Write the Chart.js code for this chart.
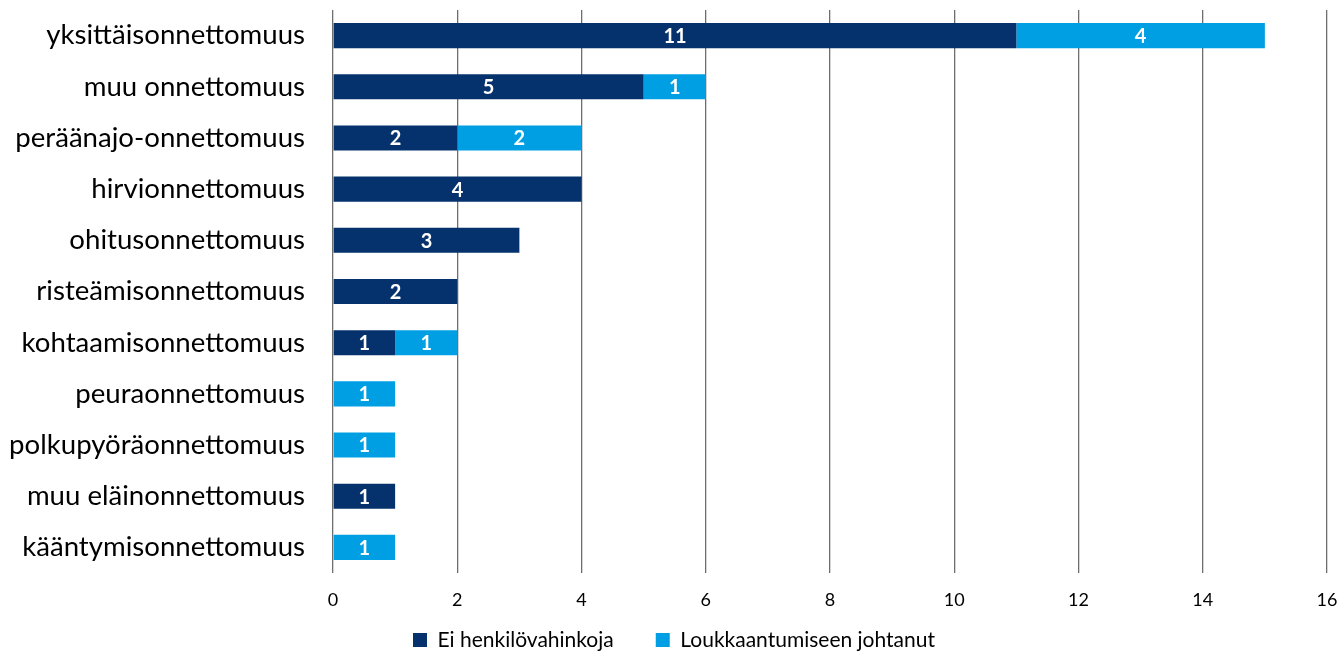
<!DOCTYPE html>
<html>
<head>
<meta charset="utf-8">
<script src="https://cdn.jsdelivr.net/npm/chart.js@4.4.1/dist/chart.umd.min.js"></script>
<style>
  html, body { margin: 0; padding: 0; background: #ffffff; }
  #wrap { width: 1341px; height: 653px; position: relative; }
</style>
</head>
<body>
<div id="wrap"><canvas id="c"></canvas></div>
<script>
// Onnettomuustyypit ja tapausmäärät
const categories = [
  'yksittäisonnettomuus',
  'muu onnettomuus',
  'peräänajo-onnettomuus',
  'hirvionnettomuus',
  'ohitusonnettomuus',
  'risteämisonnettomuus',
  'kohtaamisonnettomuus',
  'peuraonnettomuus',
  'polkupyöräonnettomuus',
  'muu eläinonnettomuus',
  'kääntymisonnettomuus'
];
const eiHenkilovahinkoja   = [11, 5, 2, 4, 3, 2, 1, 0, 0, 1, 0];
const loukkaantumiseenJoht = [4, 1, 2, 0, 0, 0, 1, 1, 1, 0, 1];
const seriesNames = ['Ei henkilövahinkoja', 'Loukkaantumiseen johtanut'];
const xTicks = [0, 2, 4, 6, 8, 10, 12, 14, 16];

const FONT = "'Lato', 'Open Sans', sans-serif";
const LEGEND_FONT = 21;
const LEGEND_PAD = 42;
const LEGEND_CENTER_Y = 640;

// Palkkien sisään piirrettävät arvot
const barValueLabels = {
  id: 'barValueLabels',
  afterDatasetsDraw(chart) {
    const ctx = chart.ctx;
    ctx.save();
    ctx.fillStyle = '#ffffff';
    ctx.font = "bold 20px " + FONT;
    ctx.textAlign = 'center';
    ctx.textBaseline = 'middle';
    chart.data.datasets.forEach((ds, di) => {
      const meta = chart.getDatasetMeta(di);
      meta.data.forEach((bar, i) => {
        const v = ds.data[i];
        if (!v) return;
        const p = bar.getProps(['x', 'base', 'y'], true);
        ctx.fillText(String(v), (p.x + p.base) / 2, p.y + 1);
      });
    });
    ctx.restore();
  }
};

// Selite kiinnitetään kuvan alareunaan omalle rivilleen
const legendPlacement = {
  id: 'legendPlacement',
  afterLayout(chart) {
    const lg = chart.legend;
    if (!lg) return;
    lg.top = LEGEND_CENTER_Y - LEGEND_PAD - LEGEND_FONT / 2;
    lg.bottom = chart.height + LEGEND_PAD * 2;
    lg.height = lg.bottom - lg.top;
    lg.left = 21;
    lg.right = 1327;
    lg.width = lg.right - lg.left;
  }
};

new Chart(document.getElementById('c'), {
  type: 'bar',
  data: {
    labels: categories,
    datasets: [
      { label: seriesNames[0], data: eiHenkilovahinkoja, backgroundColor: '#05326C', categoryPercentage: 1, barPercentage: 0.49 },
      { label: seriesNames[1], data: loukkaantumiseenJoht, backgroundColor: '#009FE3', categoryPercentage: 1, barPercentage: 0.49 }
    ]
  },
  options: {
    indexAxis: 'y',
    responsive: true,
    maintainAspectRatio: false,
    animation: false,
    layout: { padding: { top: 10, right: 14, left: 0, bottom: 0 } },
    plugins: {
      tooltip: { enabled: false },
      legend: {
        position: 'bottom',
        maxHeight: 32,
        labels: {
          font: { family: FONT, size: LEGEND_FONT },
          color: '#000000',
          boxWidth: 14,
          boxHeight: 14,
          padding: LEGEND_PAD,
          useBorderRadius: false
        }
      }
    },
    scales: {
      x: {
        stacked: true,
        min: 0,
        max: 16,
        afterBuildTicks(scale) { scale.ticks = xTicks.map(v => ({ value: v })); },
        afterFit(scale) {
          scale.height = 48;
          scale.paddingLeft = 0;
          scale.paddingRight = 0;
        },
        grid: { color: '#6E6E6E', lineWidth: 1.3, drawTicks: false },
        border: { display: false },
        ticks: { font: { family: FONT, size: 18 }, color: '#000000', padding: 16 }
      },
      y: {
        stacked: true,
        afterFit(scale) {
          scale.width = 333;
          scale.paddingTop = 0;
          scale.paddingBottom = 0;
        },
        grid: { display: false, drawTicks: false },
        border: { display: false },
        ticks: { font: { family: FONT, size: 27.6 }, color: '#000000', padding: 28 }
      }
    }
  },
  plugins: [barValueLabels, legendPlacement]
});
</script>
</body>
</html>
